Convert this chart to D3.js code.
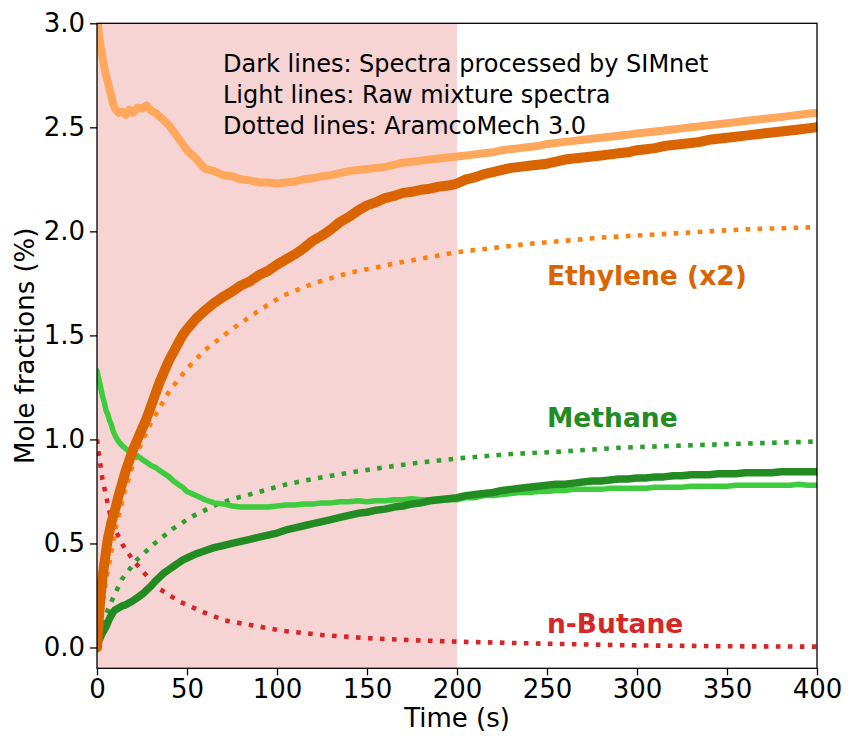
<!DOCTYPE html>
<html>
<head>
<meta charset="utf-8">
<script src="https://cdn.jsdelivr.net/npm/d3@7"></script>
<style>
  html, body { margin: 0; padding: 0; background: #fff; }
  text { font-family: "DejaVu Sans", sans-serif; }
</style>
</head>
<body>
<svg id="chart" width="848" height="736"></svg>
<script>
// ---------------- DATA ----------------
const xTicks = [0, 50, 100, 150, 200, 250, 300, 350, 400];
const yTicks = [0.0, 0.5, 1.0, 1.5, 2.0, 2.5, 3.0];
const shadeRange = [0, 200];

// time grid of the measured traces (s)
const tMeas = [0,1,2,3,4,5,6,7,8,9,10,12,14,16,18,20,22.5,25,27.5,30,32.5,35,37.5,40,42.5,45,47.5,50,
  55,60,65,70,75,80,85,90,95,100,105,110,115,120,125,130,135,140,145,150,155,160,165,170,175,180,185,190,195,200,
  205,210,215,220,225,230,235,240,245,250,255,260,265,270,275,280,285,290,295,300,305,310,315,320,325,330,335,340,
  345,350,355,360,365,370,375,380,385,390,395,400];

// Ethylene (x2), processed by SIMnet (dark)
const ethyleneDark = [0.00,0.14,0.25,0.33,0.40,0.46,0.52,0.56,0.60,0.63,0.66,0.73,0.79,0.85,0.90,0.95,1.00,1.05,1.10,1.16,1.22,1.28,1.33,1.38,1.42,1.46,1.50,1.53,
  1.58,1.62,1.655,1.685,1.71,1.74,1.76,1.79,1.81,1.84,1.865,1.89,1.92,1.955,1.98,2.01,2.045,2.07,2.10,2.125,2.14,2.16,2.17,2.185,2.19,2.20,2.205,2.215,2.22,2.23,
  2.25,2.26,2.275,2.285,2.295,2.305,2.31,2.315,2.32,2.325,2.335,2.345,2.35,2.355,2.36,2.365,2.37,2.375,2.38,2.39,2.395,2.40,2.41,2.415,2.42,2.425,2.43,2.44,
  2.445,2.45,2.455,2.46,2.465,2.47,2.475,2.48,2.485,2.49,2.495,2.50];
// Ethylene (x2), raw mixture spectra (light)
const ethyleneLight = [3.05,2.95,2.89,2.84,2.79,2.75,2.72,2.68,2.65,2.61,2.59,2.57,2.575,2.56,2.585,2.57,2.595,2.59,2.605,2.58,2.57,2.55,2.53,2.51,2.48,2.45,2.42,2.39,
  2.35,2.30,2.29,2.27,2.265,2.25,2.245,2.235,2.235,2.23,2.235,2.24,2.25,2.255,2.265,2.27,2.28,2.29,2.295,2.30,2.305,2.31,2.32,2.33,2.335,2.34,2.345,2.35,2.355,2.36,
  2.365,2.37,2.375,2.38,2.39,2.395,2.40,2.405,2.41,2.42,2.425,2.43,2.435,2.44,2.445,2.45,2.455,2.46,2.465,2.47,2.475,2.48,2.485,2.49,2.495,2.50,2.505,2.51,
  2.515,2.52,2.525,2.53,2.535,2.54,2.545,2.55,2.555,2.56,2.565,2.57];
// Methane, processed by SIMnet (dark)
const methaneDark = [0.00,0.03,0.05,0.07,0.085,0.10,0.12,0.14,0.155,0.17,0.18,0.19,0.20,0.205,0.215,0.225,0.24,0.255,0.275,0.295,0.32,0.34,0.36,0.375,0.39,0.405,0.42,0.43,
  0.45,0.465,0.48,0.49,0.50,0.51,0.52,0.53,0.54,0.55,0.565,0.575,0.585,0.595,0.605,0.615,0.625,0.635,0.645,0.65,0.66,0.665,0.675,0.68,0.69,0.695,0.705,0.71,0.715,0.72,
  0.73,0.735,0.74,0.745,0.755,0.76,0.765,0.77,0.775,0.78,0.785,0.785,0.79,0.795,0.80,0.80,0.805,0.81,0.81,0.815,0.815,0.82,0.82,0.825,0.825,0.83,0.83,0.83,
  0.835,0.835,0.835,0.84,0.84,0.84,0.84,0.845,0.845,0.845,0.845,0.845];
// Methane, raw mixture spectra (light)
const methaneLight = [1.33,1.29,1.25,1.21,1.18,1.14,1.12,1.09,1.07,1.04,1.02,0.99,0.97,0.955,0.94,0.93,0.92,0.905,0.89,0.875,0.865,0.85,0.835,0.82,0.80,0.785,0.77,0.75,
  0.73,0.71,0.695,0.69,0.68,0.675,0.675,0.675,0.675,0.68,0.685,0.685,0.69,0.69,0.695,0.695,0.70,0.70,0.705,0.70,0.705,0.705,0.71,0.71,0.715,0.71,0.71,0.715,0.71,0.71,
  0.72,0.72,0.73,0.73,0.735,0.74,0.745,0.745,0.75,0.75,0.755,0.755,0.76,0.76,0.76,0.76,0.765,0.765,0.765,0.765,0.765,0.77,0.77,0.77,0.77,0.775,0.775,0.775,
  0.775,0.775,0.78,0.78,0.78,0.78,0.78,0.78,0.78,0.785,0.78,0.78];

// AramcoMech 3.0 model (dotted)
const tEthModel = [0,5,10,15,20,25,30,40,50,60,75,90,103,120,140,168,200,240,280,320,360,400];
const ethyleneModel = [0,0.32,0.56,0.74,0.88,0.99,1.08,1.23,1.34,1.43,1.53,1.62,1.69,1.75,1.80,1.85,1.90,1.94,1.97,1.99,2.01,2.02];
const tMethModel = [0,3,6,9,14,22,32,42,53,67,78,91,103,120,140,155,180,202,230,255,290,324,360,400];
const methaneModel = [0,0.11,0.18,0.24,0.33,0.42,0.50,0.57,0.63,0.69,0.72,0.75,0.78,0.81,0.84,0.86,0.89,0.91,0.93,0.94,0.96,0.97,0.98,0.99];
const tButModel = [0,1,3,5.5,8,11,14.5,20,26,35,46,59,71,84,103,125,150,175,200,250,300,350,400];
const butaneModel = [1.0,0.93,0.81,0.71,0.61,0.55,0.49,0.42,0.36,0.28,0.22,0.17,0.13,0.11,0.08,0.06,0.045,0.035,0.028,0.018,0.01,0.006,0.004];

const noteLines = ["Dark lines: Spectra processed by SIMnet", "Light lines: Raw mixture spectra", "Dotted lines: AramcoMech 3.0"];

// ---------------- CHART ----------------
const svg = d3.select("#chart");
const m = {left: 97, right: 817, top: 23.3, bottom: 668.3};
const x = d3.scaleLinear().domain([0, 400]).range([m.left, m.right]);
const y = d3.scaleLinear().domain([-0.1, 3.0]).range([m.bottom, m.top]);

svg.append("defs").append("clipPath").attr("id", "clip")
  .append("rect").attr("x", m.left).attr("y", m.top)
  .attr("width", m.right - m.left).attr("height", m.bottom - m.top);

// shaded region
svg.append("rect")
  .attr("x", x(shadeRange[0])).attr("y", m.top)
  .attr("width", x(shadeRange[1]) - x(shadeRange[0]))
  .attr("height", m.bottom - m.top)
  .attr("fill", "rgb(214,39,40)").attr("fill-opacity", 0.2);

const g = svg.append("g").attr("clip-path", "url(#clip)");
const line = d3.line().x(d => x(d[0])).y(d => y(d[1]));
const zip = (t, v) => t.map((tt, i) => [tt, v[i]]);

function draw(t, v, color, w, dotted) {
  const p = g.append("path").datum(zip(t, v)).attr("d", line)
    .attr("fill", "none").attr("stroke", color).attr("stroke-width", w)
    .attr("stroke-linejoin", "round");
  if (dotted) p.attr("stroke-dasharray", "4.6,7.4").attr("stroke-linecap", "butt");
  else p.attr("stroke-linecap", "round");
}

// model (dotted)
draw(tButModel, butaneModel, "#d62728", 4.6, true);
draw(tMethModel, methaneModel, "#2ca02c", 4.6, true);
draw(tEthModel, ethyleneModel, "#ff7f0e", 4.6, true);
// raw (light)
draw(tMeas, methaneLight, "#3ecb3e", 5.5, false);
draw(tMeas, ethyleneLight, "#ffa75c", 8, false);
// processed (dark)
draw(tMeas, methaneDark, "#228b22", 7.5, false);
draw(tMeas, ethyleneDark, "#d96400", 10, false);

// frame
svg.append("rect").attr("x", m.left).attr("y", m.top)
  .attr("width", m.right - m.left).attr("height", m.bottom - m.top)
  .attr("fill", "none").attr("stroke", "#000").attr("stroke-width", 1.3);

// axes
const fs = 26;
const xAxis = svg.append("g").attr("transform", `translate(0,${m.bottom})`)
  .call(d3.axisBottom(x).tickValues(xTicks).tickFormat(d3.format("d")).tickSize(7).tickPadding(4));
const yAxis = svg.append("g").attr("transform", `translate(${m.left},0)`)
  .call(d3.axisLeft(y).tickValues(yTicks).tickFormat(d3.format(".1f")).tickSize(7).tickPadding(5));
[xAxis, yAxis].forEach(a => {
  a.select(".domain").remove();
  a.selectAll(".tick line").attr("stroke", "#000").attr("stroke-width", 1.3);
  a.selectAll(".tick text").attr("fill", "#000").style("font-size", fs + "px")
    .style("font-family", "DejaVu Sans");
});

// axis labels
svg.append("text").attr("x", (m.left + m.right) / 2).attr("y", 727)
  .attr("text-anchor", "middle").style("font-size", fs + "px").text("Time (s)");
svg.append("text").attr("transform", `translate(34,${(m.top + m.bottom) / 2}) rotate(-90)`)
  .attr("text-anchor", "middle").style("font-size", fs + "px").text("Mole fractions (%)");

// note
noteLines.forEach((s, i) => {
  svg.append("text").attr("x", 223).attr("y", 72 + i * 30.8)
    .style("font-size", "24px").attr("fill", "#000").text(s);
});

// species labels
const labels = [
  {text: "Ethylene (x2)", yv: 285, color: "#d96400"},
  {text: "Methane", yv: 426.7, color: "#228b22"},
  {text: "n-Butane", yv: 633, color: "#d62728"}
];
labels.forEach(l => {
  svg.append("text").attr("x", 547).attr("y", l.yv)
    .style("font-size", "26.5px").style("font-weight", "bold")
    .attr("fill", l.color).text(l.text);
});
</script>
</body>
</html>
